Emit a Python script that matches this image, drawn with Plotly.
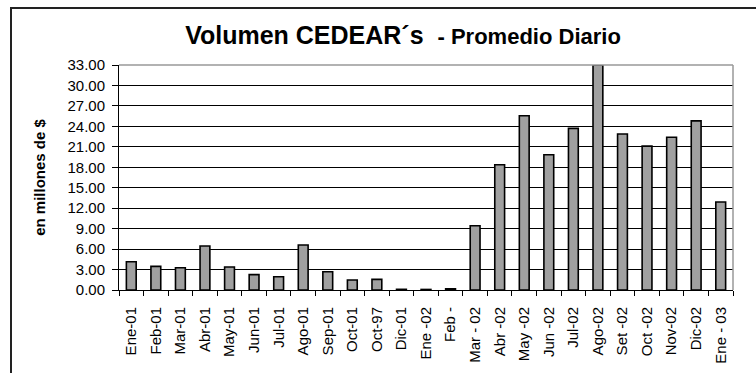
import plotly.graph_objects as go

# Monthly average daily volume of CEDEARs (millions of $)
meses = ["Ene-01", "Feb-01", "Mar-01", "Abr-01", "May-01", "Jun-01", "Jul-01",
         "Ago-01", "Sep-01", "Oct-01", "Oct-97", "Dic-01", "Ene -02", "Feb -",
         "Mar - 02", "Abr -02", "May -02", "Jun -02", "Jul-02", "Ago-02",
         "Set -02", "Oct -02", "Nov-02", "Dic-02", "Ene - 03"]
volumen = [4.15, 3.47, 3.27, 6.45, 3.37, 2.25, 1.95, 6.60, 2.68, 1.47, 1.56,
           0.10, 0.08, 0.18, 9.43, 18.37, 25.56, 19.84, 23.70, 33.00, 22.87,
           21.10, 22.40, 24.80, 12.90]
y_ticks = [0, 3, 6, 9, 12, 15, 18, 21, 24, 27, 30, 33]

fig = go.Figure(go.Bar(
    x=meses, y=volumen, width=0.4,
    marker=dict(color="#a0a0a0", line=dict(color="#000000", width=1.6)),
))

L, R, T, B = 119, 23, 65, 83
W, H = 756, 373
pw, ph = W - L - R, H - T - B

def px_x(x):
    return (x - L) / pw

def px_y(y):
    return (H - B - y) / ph

font = "Liberation Sans, Arial, sans-serif"
fig.update_layout(
    width=W, height=H,
    margin=dict(l=L, r=R, t=T, b=B, autoexpand=False),
    paper_bgcolor="white", plot_bgcolor="white",
    showlegend=False, bargap=0.6,
    font=dict(family=font, color="#000000"),
    title=dict(
        text="<b>Volumen CEDEAR´s</b>  <b><span style='font-size:22px'>- Promedio Diario</span></b>",
        xref="container", x=403 / W, xanchor="center",
        yref="container", y=1 - 35 / H, yanchor="middle",
        font=dict(size=25, family=font, color="#000000"),
    ),
    xaxis=dict(
        type="category", tickangle=-90, tickfont=dict(size=15),
        showline=True, linecolor="#000000", linewidth=1,
        ticks="outside", ticklen=5, tickcolor="#000000", tickson="boundaries",
        ticklabelstandoff=10, automargin=False,
        showgrid=False, zeroline=False,
    ),
    yaxis=dict(
        range=[0, 33], tickvals=y_ticks,
        ticktext=[f"{v:.2f}" for v in y_ticks], tickfont=dict(size=15),
        showline=True, linecolor="#000000", linewidth=1,
        ticks="outside", ticklen=6, tickcolor="#000000",
        ticklabelstandoff=4, automargin=False,
        showgrid=True, gridcolor="#000000", gridwidth=1, zeroline=False,
        title=dict(text="<b>en millones de $</b>", font=dict(size=15), standoff=18),
    ),
    shapes=[
        # plot-area right and top edges
        dict(type="line", xref="paper", yref="paper", x0=1, x1=1, y0=0, y1=1,
             line=dict(color="#999999", width=1.5)),
        dict(type="line", xref="paper", yref="paper", x0=0, x1=1, y0=1, y1=1,
             line=dict(color="#999999", width=1.5)),
        # outer chart frame
        dict(type="rect", xref="paper", yref="paper",
             x0=px_x(11), x1=px_x(W + 20), y0=px_y(H + 20), y1=px_y(8),
             line=dict(color="#222222", width=2), layer="below"),
    ],
)

fig.write_html("out.html")
